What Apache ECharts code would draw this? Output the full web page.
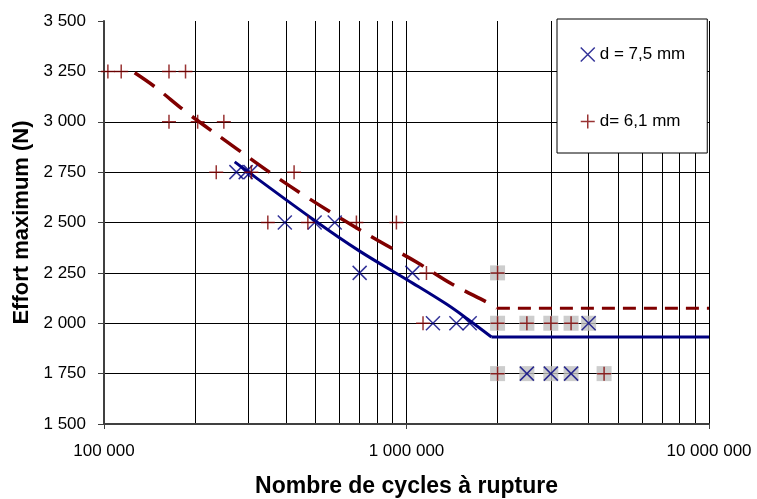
<!DOCTYPE html>
<html><head><meta charset="utf-8">
<script src="https://cdn.jsdelivr.net/npm/echarts@6/dist/echarts.min.js"></script>
<style>html,body{margin:0;padding:0;background:#fff}#c{width:757px;height:499px}</style>
</head><body><div id="c"></div>
<script>
// Series labels
const seriesNames = ['d = 7,5 mm', 'd= 6,1 mm'];
// Y ticks
const yMin = 1500, yMax = 3500, yStep = 250;
const xMin = 100000, xMax = 10000000;
// Broken specimens d = 7,5 mm  [cycles, N]
const d75Points = [[274000,2750],[294000,2750],[305000,2750],[396000,2500],[497000,2500],[579000,2500],
  [700000,2250],[1046000,2250],[1223000,2000],[1462000,2000],[1618000,2000],[4000000,2000],
  [2500000,1750],[3000000,1750],[3500000,1750]];
// d = 6,1 mm
const d61Points = [[103000,3250],[114000,3250],[164000,3250],[186000,3250],[164000,3000],[204000,3000],[249000,3000],
  [235000,2750],[307000,2750],[425000,2750],[348000,2500],[472000,2500],[683000,2500],[926000,2500],
  [1164000,2250],[2000000,2250],[1134000,2000],[2000000,2000],[2500000,2000],[3000000,2000],[3500000,2000],
  [2000000,1750],[4500000,1750]];
// Run-outs (grey squares)
const runouts = [[2000000,2250],[2000000,2000],[2500000,2000],[3000000,2000],[3500000,2000],[4000000,2000],
  [2000000,1750],[2500000,1750],[3000000,1750],[3500000,1750],[4500000,1750]];
// Fitted curves
const d75Curve = [[270400,2801],[497200,2510],[700000,2358],[1051000,2198],[1355000,2095],[1578000,2025],[1909000,1932]];
const d75Limit = [[1909000,1932],[10000000,1932]];
const d61Curve = [[126300,3243],[147100,3174],[189600,3041],[274000,2867],[357600,2743],[466900,2627],
  [609000,2519],[805000,2411],[1078000,2304],[1408000,2196],[1884000,2097],[1990000,2075]];
const d61Limit = [[1990000,2075],[10000000,2075]];

const fmt = v => String(Math.round(v)).replace(/\B(?=(\d{3})+(?!\d))/g, ' ');
const X_PATH = 'path://M0,0L10,10M10,0L0,10';
const P_PATH = 'path://M5,0L5,10M0,5L10,5';
const FONT = 'Liberation Sans, Arial, sans-serif';

const chart = echarts.init(document.getElementById('c'));
chart.setOption({
  animation: false,
  textStyle: {fontFamily: FONT},
  grid: {left: 104, right: 48, top: 21, bottom: 75, containLabel: false, outerBoundsMode: 'none'},
  legend: {
    orient: 'vertical', left: 557, top: 19,
    backgroundColor: '#fff', borderColor: '#000', borderWidth: 1,
    padding: [27, 22, 23, 23], itemGap: 50, itemWidth: 14, itemHeight: 14,
    textStyle: {fontSize: 17, color: '#000', fontFamily: FONT},
    data: [
      {name: seriesNames[0], icon: X_PATH, itemStyle: {color: 'transparent', borderColor: '#000080', borderWidth: 1.5}},
      {name: seriesNames[1], icon: P_PATH, itemStyle: {color: 'transparent', borderColor: '#800000', borderWidth: 1.5}}
    ]
  },
  xAxis: {
    type: 'log', logBase: 10, min: xMin, max: xMax,
    name: 'Nombre de cycles à rupture', nameLocation: 'middle', nameGap: 51,
    nameTextStyle: {fontSize: 23, fontWeight: 'bold', color: '#000', fontFamily: FONT},
    axisLine: {lineStyle: {color: '#404040', width: 2}},
    axisTick: {show: true, length: 5, lineStyle: {color: '#404040'}},
    axisLabel: {formatter: fmt, fontSize: 17, color: '#000', margin: 19},
    splitLine: {show: true, lineStyle: {color: '#000', width: 1}},
    minorTick: {show: false, splitNumber: 9},
    minorSplitLine: {show: true, lineStyle: {color: '#000', width: 1}}
  },
  yAxis: {
    type: 'value', min: yMin, max: yMax, interval: yStep,
    name: 'Effort maximum (N)', nameLocation: 'middle', nameGap: 70, nameRotate: 90,
    nameTextStyle: {fontSize: 22, fontWeight: 'bold', color: '#000', fontFamily: FONT},
    axisLine: {show: true, lineStyle: {color: '#404040', width: 2}},
    axisTick: {show: true, length: 6, lineStyle: {color: '#404040'}},
    axisLabel: {formatter: fmt, fontSize: 17, color: '#000', margin: 18},
    splitLine: {show: true, showMaxLine: false, lineStyle: {color: '#000', width: 1}}
  },
  series: [
    {type: 'scatter', name: 'runout', data: runouts, symbol: 'rect', symbolSize: 15,
      itemStyle: {color: '#c0c0c0'}, z: 2, silent: true},
    {type: 'line', name: 'c75', data: d75Curve, showSymbol: false, symbol: 'none', smooth: 0.35,
      lineStyle: {color: '#000080', width: 3}, z: 3},
    {type: 'line', name: 'l75', data: d75Limit, showSymbol: false, symbol: 'none',
      lineStyle: {color: '#000080', width: 3}, z: 3},
    {type: 'line', name: 'c61', data: d61Curve, showSymbol: false, symbol: 'none', smooth: 0.35,
      lineStyle: {color: '#800000', width: 3.5, type: [24, 12]}, z: 3},
    {type: 'line', name: 'l61', data: d61Limit, showSymbol: false, symbol: 'none',
      lineStyle: {color: '#800000', width: 3, type: [13, 8]}, z: 3},
    {type: 'scatter', name: seriesNames[0], data: d75Points, symbol: X_PATH, symbolSize: 14,
      itemStyle: {color: 'transparent', borderColor: '#000080', borderWidth: 1.5}, z: 4},
    {type: 'scatter', name: seriesNames[1], data: d61Points, symbol: P_PATH, symbolSize: 14,
      itemStyle: {color: 'transparent', borderColor: '#800000', borderWidth: 1.5}, z: 4}
  ]
});
</script></body></html>
